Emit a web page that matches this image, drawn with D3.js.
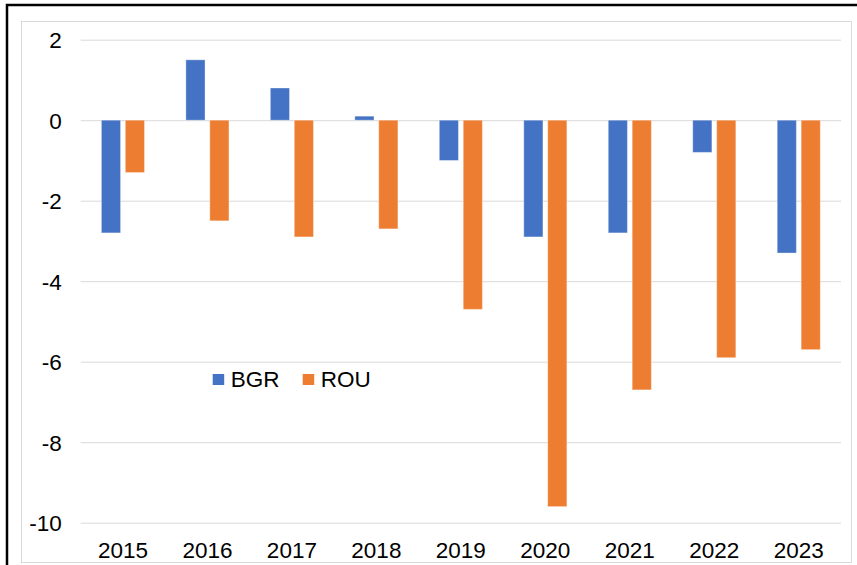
<!DOCTYPE html>
<html>
<head>
<meta charset="utf-8">
<script src="https://cdn.jsdelivr.net/npm/d3@7"></script>
<style>
	body { margin: 0; background: #fff; }
	svg { display: block; font-family: "Liberation Sans", Arial, sans-serif; }
	.grid line { stroke: #d9d9d9; stroke-width: 1; }
	.grid .domain { display: none; }
	.axis text { font-size: 22.5px; fill: #000; }
	.axis .domain, .axis line { display: none; }
	.legend text { font-size: 22.5px; fill: #000; }
</style>
</head>
<body>
<div id="chart"></div>
<script>
'use strict';

var years = ['2015', '2016', '2017', '2018', '2019', '2020', '2021', '2022', '2023'];
var series = ['BGR', 'ROU'];
var bgr = [-2.8, 1.5, 0.8, 0.1, -1.0, -2.9, -2.8, -0.8, -3.3];
var rou = [-1.3, -2.5, -2.9, -2.7, -4.7, -9.6, -6.7, -5.9, -5.7];
var yTicks = [2, 0, -2, -4, -6, -8, -10];
var colors = ['#4472C4', '#ED7D31'];

var width = 857, height = 565;
var margin = { left: 80.7, right: 16, top: 39.7, bottom: 42.3 };

var rows = years.map(function(y, i) {
	return { year: y, values: [bgr[i], rou[i]] };
});

var svg = d3.select('#chart').append('svg')
	.attr('width', width)
	.attr('height', height);

// outer frame (cut off at right and bottom)
svg.append('rect')
	.attr('x', 7).attr('y', 5)
	.attr('width', 1000).attr('height', 1000)
	.attr('fill', 'none')
	.attr('stroke', '#000')
	.attr('stroke-width', 2.5);

// chart area border
svg.append('rect')
	.attr('x', 21.5).attr('y', 21.5)
	.attr('width', 830).attr('height', 541)
	.attr('fill', '#fff')
	.attr('stroke', '#d9d9d9')
	.attr('stroke-width', 1);

var x0 = d3.scaleBand()
	.domain(years)
	.range([margin.left, width - margin.right])
	.paddingInner(0.49)
	.paddingOuter(0.245);

var x1 = d3.scaleBand()
	.domain(series)
	.range([0, x0.bandwidth()])
	.paddingInner(0.2);

var y = d3.scaleLinear()
	.domain([-10, 2])
	.range([height - margin.bottom, margin.top]);

var grid = d3.axisLeft(y)
	.tickValues(yTicks)
	.tickSize(-(width - margin.right - margin.left))
	.tickFormat('');
svg.append('g')
	.attr('class', 'grid')
	.attr('transform', 'translate(' + margin.left + ',0)')
	.call(grid);

var yAxis = d3.axisLeft(y)
	.tickValues(yTicks)
	.tickSize(0)
	.tickPadding(19)
	.tickFormat(function(d) { return d < 0 ? '-' + Math.abs(d) : d; });
svg.append('g')
	.attr('class', 'y axis')
	.attr('transform', 'translate(' + margin.left + ',0)')
	.call(yAxis)
	.selectAll('text')
	.attr('dy', '0.36em');

var xAxis = d3.axisBottom(x0)
	.tickSize(0)
	.tickPadding(19);
svg.append('g')
	.attr('class', 'x axis')
	.attr('transform', 'translate(0,' + (height - margin.bottom) + ')')
	.call(xAxis);

var groups = svg.append('g')
	.attr('class', 'bars')
	.selectAll('g')
	.data(rows)
	.enter()
	.append('g')
	.attr('transform', function(d) { return 'translate(' + x0(d.year) + ',0)'; });

groups.selectAll('rect')
	.data(function(d) {
		return d.values.map(function(v, i) { return { key: series[i], value: v, i: i }; });
	})
	.enter()
	.append('rect')
	.attr('x', function(d) { return x1(d.key); })
	.attr('width', x1.bandwidth())
	.attr('y', function(d) { return y(Math.max(0, d.value)); })
	.attr('height', function(d) { return Math.abs(y(d.value) - y(0)); })
	.attr('fill', function(d) { return colors[d.i]; })
	.attr('stroke', '#fff')
	.attr('stroke-opacity', 0.35)
	.attr('stroke-width', 1);

// legend
var legend = svg.append('g')
	.attr('class', 'legend')
	.attr('transform', 'translate(212.7,374)');

var item = legend.selectAll('g')
	.data(series)
	.enter()
	.append('g')
	.attr('transform', function(d, i) { return 'translate(' + (i * 90) + ',0)'; });

item.append('rect')
	.attr('width', 11.5)
	.attr('height', 11)
	.attr('fill', function(d, i) { return colors[i]; });

item.append('text')
	.attr('x', 18)
	.attr('y', 12.7)
	.text(function(d) { return d; });
</script>
</body>
</html>
